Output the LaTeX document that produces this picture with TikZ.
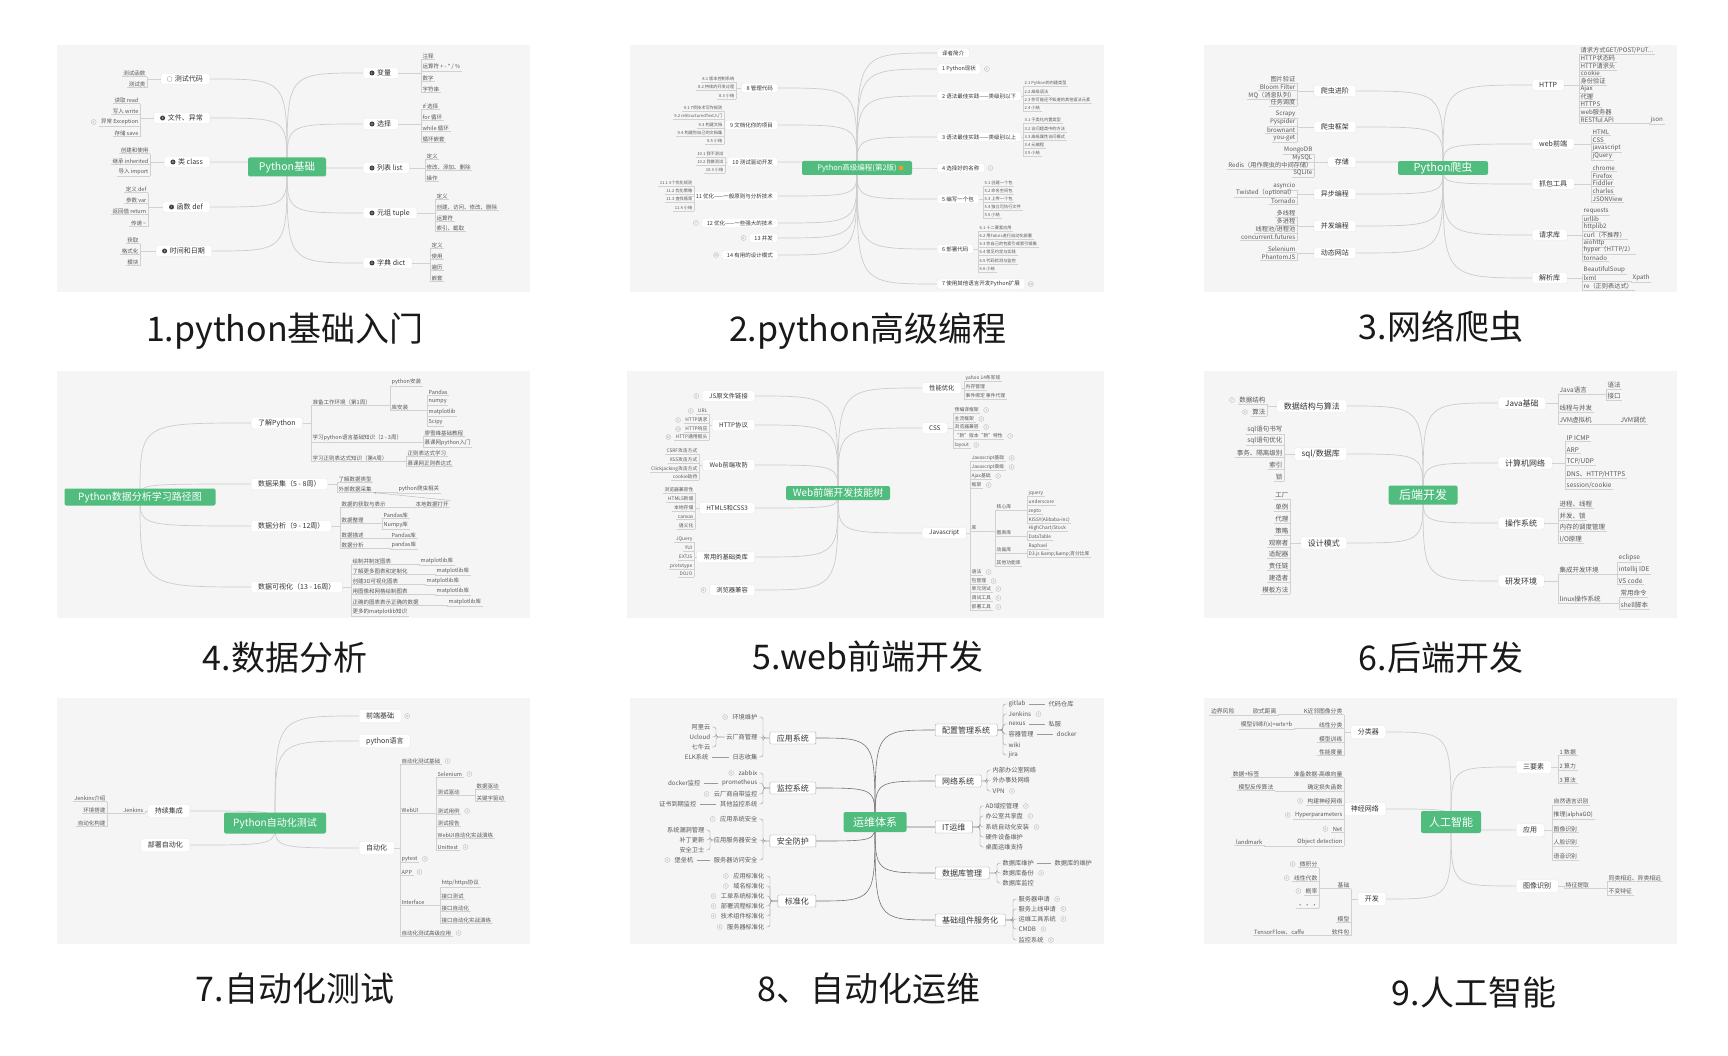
\documentclass[tikz,border=0pt]{standalone}
\usepackage{fontspec}
\setmainfont{Noto Sans CJK SC}
\usetikzlibrary{arrows.meta}

\definecolor{mapgreen}{RGB}{80, 188, 126}
\definecolor{mapbg}{RGB}{245, 245, 245}

\pgfdeclarelayer{panelbg}
\pgfdeclarelayer{edges}
\pgfsetlayers{panelbg,edges,main}

% leaves hanging off a bar, underlined (right / left of the parent)
\newcommand\kidsR[4]{%
  \foreach \uy/\tx [count=\k] in {#4} {%
    \node[leaf, anchor=west] (#3\k) at (#2,\uy) {\tx};
    \draw[twig] (#3\k.south west) -- (#3\k.south east);
    \draw[twig] (#1) -- (#1 -| #3\k.south west) -- (#3\k.south west);
  }}
\newcommand\kidsL[4]{%
  \foreach \uy/\tx [count=\k] in {#4} {%
    \node[leaf, anchor=east] (#3\k) at (#2,\uy) {\tx};
    \draw[twig] (#3\k.south west) -- (#3\k.south east);
    \draw[twig] (#1) -- (#1 -| #3\k.south east) -- (#3\k.south east);
  }}
% leaves on a brace (no underline)
\newcommand\braceR[4]{%
  \foreach \uy/\tx [count=\k] in {#4} {%
    \node[leaf, anchor=west] (#3\k) at (#2+4,\uy) {\tx};
    \draw[twig, rounded corners=2.5pt] (#1) -| ([xshift=-4pt]#3\k.west) -- (#3\k.west);
  }}
\newcommand\braceL[4]{%
  \foreach \uy/\tx [count=\k] in {#4} {%
    \node[leaf, anchor=east] (#3\k) at (#2-4,\uy) {\tx};
    \draw[twig, rounded corners=2.5pt] (#1) -| ([xshift=4pt]#3\k.east) -- (#3\k.east);
  }}
\newcommand\pairR[4]{%
  \foreach \uy/\tx [count=\k] in {#4} {%
    \node[leaf, anchor=west] (#3\k) at (#2,\uy) {\tx};
    \draw[twig] ([xshift=2pt]#1.east) -- ([xshift=-2pt]#3\k.west);
  }}
\newcommand\pairL[4]{%
  \foreach \uy/\tx [count=\k] in {#4} {%
    \node[leaf, anchor=east] (#3\k) at (#2,\uy) {\tx};
    \draw[twig] ([xshift=-2pt]#1.west) -- ([xshift=2pt]#3\k.east);
  }}
% little count badges beside a leaf
\newcommand\tallyR[1]{%
  \foreach \b/\n in {#1}
    \node[tally, anchor=west] (\b-n) at ([xshift=3pt]\b.east) {\n};}
\newcommand\tallyL[1]{%
  \foreach \b/\n in {#1}
    \node[tally, anchor=east] (\b-n) at ([xshift=-3pt]\b.west) {\n};}

\begin{document}
\begin{tikzpicture}[x=1pt, y=-1pt,
    panel/.style={fill=mapbg},
    hub/.style={fill=mapgreen, text=white, rounded corners=2pt, inner sep=1pt},
    branch/.style={fill=white, draw=black!9, rounded corners=1.5pt, text=black!80,
      inner xsep=7pt, inner ysep=2pt, minimum height=11pt},
    leaf/.style={text=black!65, inner xsep=1.5pt, inner ysep=0.8pt},
    twig/.style={draw=black!18, line width=0.4pt},
    curve/.style={draw=black!20, line width=0.7pt},
    icon/.style={circle, fill=black!75, text=white, inner sep=0pt, minimum size=5pt,
      font=\fontsize{3}{3}\selectfont},
    tally/.style={circle, draw=black!25, text=black!40, inner sep=0pt, minimum size=5pt,
      font=\fontsize{3}{3}\selectfont},
    caption/.style={font=\fontsize{34}{34}\selectfont, text=black!90},
    relate/.style={draw=black!30, line width=0.4pt, -{Stealth[length=3pt]}}]
  \useasboundingbox (0,0) rectangle (1728,1056);

  % ---------------- 1. python basics
  \begin{scope}[shift={(57,45)},
      leaf/.append style={font=\fontsize{5.5}{6}\selectfont},
      branch/.append style={font=\fontsize{7}{7}\selectfont}]
    \begin{pgfonlayer}{panelbg}
      \fill[panel] (0,0) rectangle (473,247);
    \end{pgfonlayer}
    \node[hub, minimum width=78pt, minimum height=19pt, font=\fontsize{10.5}{11}\selectfont] (p1h) at (230,122) {Python基础};
    \node[branch, anchor=west] (p1r1) at (306,28) {\hspace{7pt}变量};
    \node[branch, anchor=west] (p1r2) at (306,79) {\hspace{7pt}选择};
    \node[branch, anchor=west] (p1r3) at (306,123) {\hspace{7pt}列表 list};
    \node[branch, anchor=west] (p1r4) at (306,168) {\hspace{7pt}元组 tuple};
    \node[branch, anchor=west] (p1r5) at (306,218) {\hspace{7pt}字典 dict};
    \node[branch, anchor=east] (p1l1) at (153,34) {\hspace{7pt}测试代码};
    \node[branch, anchor=east] (p1l2) at (153,73) {\hspace{7pt}文件、异常};
    \node[branch, anchor=east] (p1l3) at (153,117) {\hspace{7pt}类 class};
    \node[branch, anchor=east] (p1l4) at (153,162) {\hspace{7pt}函数 def};
    \node[branch, anchor=east] (p1l5) at (155,206) {\hspace{7pt}时间和日期};
    \foreach \b/\n in {p1r1/1,p1r2/2,p1r3/3,p1r4/4,p1r5/5,p1l2/9,p1l3/8,p1l4/7,p1l5/6}
      \node[icon] (\b-i) at ([xshift=9pt]\b.west) {\n};
    \node[icon, fill=white, draw=black!35] (p1l1-i) at ([xshift=9pt]p1l1.west) {};
    \begin{pgfonlayer}{edges}
      \foreach \b in {p1r1,p1r2,p1r3,p1r4,p1r5}
        \draw[curve] (p1h.center) .. controls (p1h.center |- \b.west) .. (\b.west);
      \foreach \b in {p1l1,p1l2,p1l3,p1l4,p1l5}
        \draw[curve] (p1h.center) .. controls (p1h.center |- \b.east) .. (\b.east);
    \end{pgfonlayer}
    \kidsR{p1r1.east}{364}{p1a}{11/注释, 22/{运算符 + - * / \%}, 33/数字, 44/字符串}
    \kidsR{p1r2.east}{364}{p1b}{61/if 选择, 72/for 循环, 83/while 循环, 94/循环嵌套}
    \kidsR{p1r3.east}{368}{p1c}{111/定义, 122/修改、添加、删除, 133/操作}
    \kidsR{p1r4.east}{378}{p1d}{151/定义, 162/创建、访问、修改、删除, 173/运算符, 183/索引、截取}
    \kidsR{p1r5.east}{373}{p1e}{200/定义, 211/使用, 222/遍历, 233/嵌套}
    \kidsL{p1l1.west}{90}{p1f}{28/测试函数, 39/测试类}
    \kidsL{p1l2.west}{83}{p1g}{55/读取 read, 66/写入 write, 77/异常 Exception, 88/存储 save}
    \kidsL{p1l3.west}{93}{p1i}{105/创建和使用, 116/继承 inherited, 127/导入 import}
    \kidsL{p1l4.west}{91}{p1j}{144/定义 def, 155/参数 var, 166/返回值 return, 178/传递 \textasciitilde}
    \kidsL{p1l5.west}{83}{p1k}{195/获取, 206/格式化, 217/模块}
    \tallyL{p1g3/2}
  \end{scope}

  % ---------------- 2. advanced python
  \begin{scope}[shift={(630,45)},
      leaf/.append style={font=\fontsize{4.2}{4.5}\selectfont},
      branch/.append style={font=\fontsize{5.5}{6}\selectfont, minimum height=9.5pt, inner xsep=5pt}]
    \begin{pgfonlayer}{panelbg}
      \fill[panel] (0,0) rectangle (474,247);
    \end{pgfonlayer}
    \node[hub, minimum width=110pt, minimum height=14pt, font=\fontsize{7.5}{8}\selectfont] (p2h) at (227,123) {Python高级编程(第2版)\hspace{12pt}};
    \fill[orange!85] ([xshift=-13pt,yshift=2pt]p2h.east) rectangle +(4,4);
    \node[branch, anchor=west] (p2r1) at (307,8) {译者简介};
    \node[branch, anchor=west] (p2r2) at (307,24) {1 Python现状};
    \node[branch, anchor=west] (p2r3) at (307,51) {2 语法最佳实践——类级别以下};
    \node[branch, anchor=west] (p2r4) at (307,92) {3 语法最佳实践——类级别以上};
    \node[branch, anchor=west] (p2r5) at (307,123) {4 选择好的名称};
    \node[branch, anchor=west] (p2r6) at (307,154) {5 编写一个包};
    \node[branch, anchor=west] (p2r7) at (307,204) {6 部署代码};
    \node[branch, anchor=west] (p2r8) at (307,239) {7 使用其他语言开发Python扩展};
    \node[branch, anchor=east] (p2l1) at (148,43) {8 管理代码};
    \node[branch, anchor=east] (p2l2) at (148,80) {9 文档化你的项目};
    \node[branch, anchor=east] (p2l3) at (148,117) {10 测试驱动开发};
    \node[branch, anchor=east] (p2l4) at (148,151) {11 优化——一般原则与分析技术};
    \node[branch, anchor=east] (p2l5) at (148,178) {12 优化——一些强大的技术};
    \node[branch, anchor=east] (p2l6) at (148,193) {13 并发};
    \node[branch, anchor=east] (p2l7) at (148,210) {14 有用的设计模式};
    \begin{pgfonlayer}{edges}
      \foreach \b in {p2r1,p2r2,p2r3,p2r4,p2r5,p2r6,p2r7,p2r8}
        \draw[curve] (p2h.center) .. controls (p2h.center |- \b.west) .. (\b.west);
      \foreach \b in {p2l1,p2l2,p2l3,p2l4,p2l5,p2l6,p2l7}
        \draw[curve] (p2h.center) .. controls (p2h.center |- \b.east) .. (\b.east);
    \end{pgfonlayer}
    \kidsR{p2r3.east}{393}{p2a}{38/2.1 Python的内建类型, 47/2.2 高级语法, 55/2.3 你可能还不知道的其他语法元素, 63/2.4 小结}
    \kidsR{p2r4.east}{393}{p2b}{75/3.1 子类化内置类型, 84/3.2 访问超类中的方法, 92/3.3 高级属性访问模式, 100/3.4 元编程, 108/3.5 小结}
    \kidsR{p2r6.east}{353}{p2c}{138/5.1 创建一个包, 146/5.2 命名空间包, 154/5.3 上传一个包, 162/5.4 独立可执行文件, 170/5.5 小结}
    \kidsR{p2r7.east}{348}{p2d}{183/6.1 十二要素应用, 191/6.2 用Fabric进行自动化部署, 199/6.3 你自己的包索引或索引镜像, 207/6.4 常见约定与实践, 216/6.5 代码检测与监控, 224/6.6 小结}
    \kidsL{p2l1.west}{106}{p2e}{34/8.1 版本控制系统, 42/8.2 持续的开发过程, 51/8.3 小结}
    \kidsL{p2l2.west}{94}{p2f}{63/9.1 7项技术写作规则, 71/9.2 reStructuredText入门, 80/9.3 构建文档, 88/9.4 构建你自己的文档集, 96/9.5 小结}
    \kidsL{p2l3.west}{95}{p2g}{109/10.1 我不测试, 117/10.2 我做测试, 125/10.3 小结}
    \kidsL{p2l4.west}{64}{p2i}{138/11.1 3个优化规则, 146/11.2 优化策略, 154/11.3 查找瓶颈, 163/11.4 小结}
    \tallyR{p2r2/1, p2r5/1, p2r8/10}
    \tallyL{p2l5/7, p2l6/5, p2l7/10}
  \end{scope}

  % ---------------- 3. web crawler
  \begin{scope}[shift={(1204,45)},
      leaf/.append style={font=\fontsize{6.2}{6.5}\selectfont},
      branch/.append style={font=\fontsize{7}{7}\selectfont}]
    \begin{pgfonlayer}{panelbg}
      \fill[panel] (0,0) rectangle (473,247);
    \end{pgfonlayer}
    \node[hub, minimum width=90pt, minimum height=13pt, font=\fontsize{11}{11}\selectfont] (p3h) at (239,123) {Python爬虫};
    \node[branch, anchor=west] (p3r1) at (328,40) {HTTP};
    \node[branch, anchor=west] (p3r2) at (328,99) {web前端};
    \node[branch, anchor=west] (p3r3) at (328,139) {抓包工具};
    \node[branch, anchor=west] (p3r4) at (328,190) {请求库};
    \node[branch, anchor=west] (p3r5) at (328,233) {解析库};
    \node[branch, anchor=east] (p3l1) at (152,46) {爬虫进阶};
    \node[branch, anchor=east] (p3l2) at (152,82) {爬虫框架};
    \node[branch, anchor=east] (p3l3) at (152,117) {存储};
    \node[branch, anchor=east] (p3l4) at (152,149) {异步编程};
    \node[branch, anchor=east] (p3l5) at (152,181) {并发编程};
    \node[branch, anchor=east] (p3l6) at (152,208) {动态网站};
    \begin{pgfonlayer}{edges}
      \foreach \b in {p3r1,p3r2,p3r3,p3r4,p3r5}
        \draw[curve] (p3h.center) .. controls (p3h.center |- \b.west) .. (\b.west);
      \foreach \b in {p3l1,p3l2,p3l3,p3l4,p3l5,p3l6}
        \draw[curve] (p3h.center) .. controls (p3h.center |- \b.east) .. (\b.east);
    \end{pgfonlayer}
    \kidsR{p3r1.east}{375}{p3a}{5/{请求方式GET/POST/PUT...}, 13/HTTP状态码, 21/HTTP请求头, 28/cookie, 36/身份验证, 44/Ajax, 52/代理, 59/HTTPS, 67/web服务器, 75/RESTful API}
    \kidsR{p3a10.south east}{445}{p3b}{75/json}
    \kidsR{p3r2.east}{387}{p3c}{87/HTML, 95/CSS, 103/javascript, 111/jQuery}
    \kidsR{p3r3.east}{387}{p3d}{123/chrome, 131/Firefox, 138/Fiddler, 146/charles, 154/JSONView}
    \kidsR{p3r4.east}{378}{p3e}{166/requests, 174/urllib, 182/httplib2, 190/curl（不推荐）, 198/aiohttp, 205/{hyper（HTTP/2）}, 213/tornado}
    \kidsR{p3r5.east}{378}{p3f}{225/BeautifulSoup, 233/lxml, 241/re（正则表达式）}
    \kidsR{p3f2.south east}{427}{p3g}{233/Xpath}
    \kidsL{p3l1.west}{93}{p3i}{34/图片验证, 42/Bloom Filter, 50/MQ（消息队列）, 57/任务调度}
    \kidsL{p3l2.west}{93}{p3j}{69/Scrapy, 77/Pyspider, 85/brownant, 93/you-get}
    \kidsL{p3l3.west}{110}{p3k}{105/MongoDB, 113/MySQL, 120/Redis（用作爬虫的中间存储）, 128/SQLite}
    \kidsL{p3l4.west}{93}{p3m}{141/asyncio, 148/Twisted（optional）, 156/Tornado}
    \kidsL{p3l5.west}{93}{p3n}{168/多线程, 176/多进程, 184/{线程池/进程池}, 192/concurrent.futures}
    \kidsL{p3l6.west}{93}{p3o}{204/Selenium, 212/PhantomJS}
  \end{scope}

  % ---------------- 4. data analysis
  \begin{scope}[shift={(57,371)},
      leaf/.append style={font=\fontsize{5.5}{6}\selectfont},
      branch/.append style={font=\fontsize{7}{7}\selectfont}]
    \begin{pgfonlayer}{panelbg}
      \fill[panel] (0,0) rectangle (473,247);
    \end{pgfonlayer}
    \node[hub, minimum width=151pt, minimum height=17pt, font=\fontsize{10}{10}\selectfont] (p4h) at (83,126) {Python数据分析学习路径图};
    \node[branch, anchor=west] (p4r1) at (194,52) {了解Python};
    \node[branch, anchor=west] (p4r2) at (194,113) {数据采集（5 - 8周）};
    \node[branch, anchor=west] (p4r3) at (194,155) {数据分析（9 - 12周）};
    \node[branch, anchor=west] (p4r4) at (194,216) {数据可视化（13 - 16周）};
    \begin{pgfonlayer}{edges}
      \foreach \b in {p4r1,p4r2,p4r3,p4r4}
        \draw[curve] (p4h.center) .. controls (p4h.center |- \b.west) .. (\b.west);
    \end{pgfonlayer}
    \kidsR{p4r1.east}{254}{p4a}{31/准备工作环境（第1周）, 67/学习python语言基础知识（2 - 3周）, 87/学习正则表达式知识（第4周）}
    \kidsR{p4a1.south east}{333}{p4b}{11/python安装, 36/库安装}
    \kidsR{p4b2.south east}{370}{p4c}{21/Pandas, 31/numpy, 41/matplotlib, 51/Scipy}
    \kidsR{p4a2.south east}{366}{p4d}{62/廖雪峰基础教程, 72/慕课网python入门}
    \kidsR{p4a3.south east}{349}{p4e}{82/正则表达式学习, 92/慕课网正则表达式}
    \kidsR{p4r2.east}{280}{p4f}{108/了解数据类型, 118/外部数据采集}
    \kidsR{p4f2.south east}{340}{p4g}{118/python爬虫相关}
    \kidsR{p4r3.east}{283}{p4i}{133/数据的获取与表示, 149/数据整理, 164/数据描述, 174/数据分析}
    \kidsR{p4i1.south east}{357}{p4j}{133/本地数据打开}
    \kidsR{p4i2.south east}{325}{p4k}{144/Pandas库, 154/Numpy库}
    \kidsR{p4i3.south east}{333}{p4l}{164/Pandas库}
    \kidsR{p4i4.south east}{333}{p4m}{174/pandas库}
    \draw[relate] (p4j1.north east) -- (p4f2.south east);
    \kidsR{p4r4.east}{294}{p4n}{190/绘制并制定图表, 200/了解更多图表和定制化, 210/创建3D可视化图表, 220/用图像和网格绘制图表, 231/正确的图表表示正确的数据, 241/更多的matplotlib知识}
    \kidsR{p4n1.south east}{362}{p4o}{190/matplotlib库}
    \kidsR{p4n2.south east}{378}{p4p}{200/matplotlib库}
    \kidsR{p4n3.south east}{368}{p4q}{210/matplotlib库}
    \kidsR{p4n4.south east}{378}{p4s}{220/matplotlib库}
    \kidsR{p4n5.south east}{390}{p4t}{231/matplotlib库}
  \end{scope}

  % ---------------- 5. web front end
  \begin{scope}[shift={(627,371)},
      leaf/.append style={font=\fontsize{4.8}{5}\selectfont},
      branch/.append style={font=\fontsize{6.3}{6.5}\selectfont}]
    \begin{pgfonlayer}{panelbg}
      \fill[panel] (0,0) rectangle (477,247);
    \end{pgfonlayer}
    \node[hub, minimum width=104pt, minimum height=14pt, font=\fontsize{10}{10}\selectfont] (p5h) at (211,122) {Web前端开发技能树};
    \node[branch, anchor=west] (p5r1) at (295,17) {性能优化};
    \node[branch, anchor=west] (p5r2) at (295,57) {CSS};
    \node[branch, anchor=west] (p5r3) at (295,162) {Javascript};
    \node[branch, anchor=east] (p5l1) at (128,25) {JS原文件链接};
    \node[branch, anchor=east] (p5l2) at (128,54) {HTTP协议};
    \node[branch, anchor=east] (p5l3) at (128,94) {Web前端攻防};
    \node[branch, anchor=east] (p5l4) at (128,137) {HTML5和CSS3};
    \node[branch, anchor=east] (p5l5) at (128,186) {常用的基础类库};
    \node[branch, anchor=east] (p5l6) at (128,219) {浏览器兼容};
    \begin{pgfonlayer}{edges}
      \foreach \b in {p5r1,p5r2,p5r3}
        \draw[curve] (p5h.center) .. controls (p5h.center |- \b.west) .. (\b.west);
      \foreach \b in {p5l1,p5l2,p5l3,p5l4,p5l5,p5l6}
        \draw[curve] (p5h.center) .. controls (p5h.center |- \b.east) .. (\b.east);
    \end{pgfonlayer}
    \kidsR{p5r1.east}{337}{p5a}{7/yahoo 14条军规, 16/内存管理, 25/事件绑定 事件代理}
    \kidsR{p5r2.east}{326}{p5b}{39/预编译框架, 48/主流框架, 56/浏览器兼容, 65/“新”版本“新”特性, 74/layout}
    \kidsR{p5r3.east}{343}{p5c}{87/Javascript基础, 96/Javascript高级, 105/Ajax基础, 114/框架, 157/库, 201/语法, 210/包管理, 218/单元测试, 227/调试工具, 236/部署工具}
    \kidsR{p5c5.south east}{368}{p5d}{136/核心库, 162/图表库, 179/动画库, 192/其他功能库}
    \kidsR{p5d1.south east}{400}{p5e}{122/jquery, 131/underscore, 140/zepto, 149/KISSY(Alibaba-inc)}
    \kidsR{p5d2.south east}{400}{p5f}{157/{HighChart/Stock}, 166/DataTable}
    \kidsR{p5d3.south east}{400}{p5g}{175/Raphael, 183/D3.js \&amp;\&amp;百分比库}
    \kidsL{p5l2.west}{82}{p5i}{40/URL, 49/HTTP请求, 58/HTTP响应, 66/HTTP通用报头}
    \kidsL{p5l3.west}{72}{p5j}{80/CSRF攻击方式, 89/XSS攻击方式, 98/Clickjacking攻击方式, 106/cookie劫持}
    \kidsL{p5l4.west}{68}{p5k}{119/浏览器兼容性, 128/HTML5新增, 137/本地存储, 146/canvas, 155/语义化}
    \kidsL{p5l5.west}{67}{p5m}{168/JQuery, 177/YUI, 186/EXTJS, 195/prototype, 203/DOJO}
    \tallyR{p5b1/3, p5b2/3, p5b3/5, p5b4/7, p5b5/4, p5c1/5, p5c2/6, p5c3/4, p5c4/4, p5c6/2, p5c7/3, p5c8/4, p5c9/5, p5c10/3}
    \tallyL{p5l1/5, p5l6/8, p5i1/3, p5i2/4, p5i3/13, p5i4/10}
  \end{scope}

  % ---------------- 6. back end
  \begin{scope}[shift={(1204,371)},
      leaf/.append style={font=\fontsize{6.5}{7}\selectfont},
      branch/.append style={font=\fontsize{8}{8}\selectfont, minimum height=12pt}]
    \begin{pgfonlayer}{panelbg}
      \fill[panel] (0,0) rectangle (473,247);
    \end{pgfonlayer}
    \node[hub, minimum width=69pt, minimum height=19pt, font=\fontsize{12}{12}\selectfont] (p6h) at (219,124) {后端开发};
    \node[branch, anchor=west] (p6r1) at (294,32) {Java基础};
    \node[branch, anchor=west] (p6r2) at (294,92) {计算机网络};
    \node[branch, anchor=west] (p6r3) at (294,152) {操作系统};
    \node[branch, anchor=west] (p6r4) at (294,210) {研发环境};
    \node[branch, anchor=east] (p6l1) at (143,35) {数据结构与算法};
    \node[branch, anchor=east] (p6l2) at (143,83) {sql/数据库};
    \node[branch, anchor=east] (p6l3) at (143,172) {设计模式};
    \begin{pgfonlayer}{edges}
      \foreach \b in {p6r1,p6r2,p6r3,p6r4}
        \draw[curve] (p6h.center) .. controls (p6h.center |- \b.west) .. (\b.west);
      \foreach \b in {p6l1,p6l2,p6l3}
        \draw[curve] (p6h.center) .. controls (p6h.center |- \b.east) .. (\b.east);
    \end{pgfonlayer}
    \kidsR{p6r1.east}{354}{p6a}{19/Java语言, 37/线程与并发, 49/JVM虚拟机}
    \kidsR{p6a1.south east}{402}{p6b}{14/语法, 25/接口}
    \kidsR{p6a3.south east}{415}{p6c}{49/JVM调优}
    \kidsR{p6r2.east}{361}{p6d}{67/IP ICMP, 79/ARP, 90/{TCP/UDP}, 103/{DNS、HTTP/HTTPS}, 114/{session/cookie}}
    \kidsR{p6r3.east}{354}{p6e}{133/进程、线程, 145/并发、锁, 156/内存的调度管理, 168/{I/O原理}}
    \kidsR{p6r4.east}{354}{p6f}{199/集成开发环境, 228/linux操作系统}
    \kidsR{p6f1.south east}{413}{p6g}{187/eclipse, 199/intellij IDE, 210/VS code}
    \kidsR{p6f2.south east}{415}{p6i}{222/常用命令, 234/shell脚本}
    \kidsL{p6l1.west}{63}{p6j}{29/数据结构, 41/算法}
    \kidsL{p6l2.west}{80}{p6k}{59/sql语句书写, 70/sql语句优化, 82/事务、隔离级别, 94/索引, 106/锁}
    \kidsL{p6l3.west}{86}{p6m}{124/工厂, 136/单例, 148/代理, 160/策略, 172/观察者, 183/适配器, 195/责任链, 207/建造者, 219/模板方法}
    \tallyL{p6j1/7, p6j2/6}
  \end{scope}

  % ---------------- 7. test automation
  \begin{scope}[shift={(57,698)},
      leaf/.append style={font=\fontsize{5.5}{6}\selectfont},
      branch/.append style={font=\fontsize{7}{7}\selectfont, minimum height=13pt}]
    \begin{pgfonlayer}{panelbg}
      \fill[panel] (0,0) rectangle (473,246);
    \end{pgfonlayer}
    \node[hub, minimum width=102pt, minimum height=21pt, font=\fontsize{10}{10}\selectfont] (p7h) at (218,125) {Python自动化测试};
    \node[branch, anchor=west] (p7r1) at (302,18) {前端基础};
    \node[branch, anchor=west] (p7r2) at (302,43) {python语言};
    \node[branch, anchor=west] (p7r3) at (302,150) {自动化};
    \node[branch, anchor=east] (p7l1) at (133,113) {持续集成};
    \node[branch, anchor=east] (p7l2) at (133,147) {部署自动化};
    \begin{pgfonlayer}{edges}
      \foreach \b in {p7r1,p7r2,p7r3}
        \draw[curve] (p7h.center) .. controls (p7h.center |- \b.west) .. (\b.west);
      \foreach \b in {p7l1,p7l2}
        \draw[curve] (p7h.center) .. controls (p7h.center |- \b.east) .. (\b.east);
    \end{pgfonlayer}
    \kidsR{p7r3.east}{343}{p7a}{63/自动化测试基础, 112/WebUI, 161/pytest, 174/APP, 204/Interface, 235/自动化测试高级应用}
    \kidsR{p7a2.south east}{379}{p7b}{76/Selenium, 94/测试驱动, 113/测试用例, 125/测试报告, 137/WebUI自动化实战演练, 149/Unittest}
    \kidsR{p7b2.south east}{418}{p7c}{88/数据驱动, 100/关键字驱动}
    \kidsR{p7a5.south east}{383}{p7d}{185/{http/https协议}, 198/接口测试, 210/接口自动化, 222/接口自动化实战演练}
    \kidsL{p7l1.west}{88}{p7e}{112/Jenkins}
    \kidsL{p7e1.south west}{50}{p7f}{100/Jenkins介绍, 112/环境搭建, 125/自动化构建}
    \tallyR{p7r1/8, p7a1/3, p7a3/4, p7a4/6, p7a6/3, p7b1/3, p7b3/2, p7b6/2}
  \end{scope}

  % ---------------- 8. ops automation
  \begin{scope}[shift={(630,698)},
      leaf/.append style={font=\fontsize{6.2}{6.5}\selectfont},
      branch/.append style={font=\fontsize{8}{8}\selectfont, draw=black!35, rounded corners=1pt, minimum height=12pt},
      curve/.append style={draw=black!55, line width=0.6pt},
      twig/.append style={draw=black!40}]
    \begin{pgfonlayer}{panelbg}
      \fill[panel] (0,0) rectangle (474,246);
    \end{pgfonlayer}
    \node[hub, minimum width=63pt, minimum height=20pt, font=\fontsize{11}{11}\selectfont] (p8h) at (245,124) {运维体系};
    \node[branch, anchor=west] (p8r1) at (305,32) {配置管理系统};
    \node[branch, anchor=west] (p8r2) at (305,83) {网络系统};
    \node[branch, anchor=west] (p8r3) at (305,129) {IT运维};
    \node[branch, anchor=west] (p8r4) at (305,175) {数据库管理};
    \node[branch, anchor=west] (p8r5) at (305,222) {基础组件服务化};
    \node[branch, anchor=east] (p8l1) at (186,40) {应用系统};
    \node[branch, anchor=east] (p8l2) at (186,90) {监控系统};
    \node[branch, anchor=east] (p8l3) at (186,143) {安全防护};
    \node[branch, anchor=east] (p8l4) at (186,203) {标准化};
    \begin{pgfonlayer}{edges}
      \foreach \b in {p8r1,p8r2,p8r3,p8r4,p8r5}
        \draw[curve] (p8h.center) .. controls (p8h.center |- \b.west) .. (\b.west);
      \foreach \b in {p8l1,p8l2,p8l3,p8l4}
        \draw[curve] (p8h.center) .. controls (p8h.center |- \b.east) .. (\b.east);
    \end{pgfonlayer}
    \braceR{p8r1.east}{373}{p8a}{6/gitlab, 16/Jenkins, 26/nexus, 36/容器管理, 47/wiki, 57/jira}
    \pairR{p8a1}{417}{p8b}{6/代码仓库}
    \pairR{p8a3}{417}{p8c}{26/私服}
    \pairR{p8a4}{425}{p8d}{36/docker}
    \braceR{p8r2.east}{357}{p8e}{72/内部办公室网络, 82/外办事处网络, 93/VPN}
    \braceR{p8r3.east}{350}{p8f}{108/AD域控管理, 118/办公室共享盘, 129/系统自动化安装, 139/硬件设备维护, 149/桌面运维支持}
    \braceR{p8r4.east}{367}{p8g}{165/数据库维护, 175/数据库备份, 185/数据库监控}
    \pairR{p8g1}{423}{p8i}{165/数据库的维护}
    \braceR{p8r5.east}{383}{p8j}{201/服务器申请, 211/服务上线申请, 221/运维工具系统, 231/CMDB, 242/监控系统}
    \braceL{p8l1.west}{133}{p8k}{19/环境维护, 39/云厂商管理, 59/日志收集}
    \braceL{p8k2.west}{86}{p8m}{29/阿里云, 39/Ucloud, 49/七牛云}
    \pairL{p8k3}{80}{p8n}{59/ELK系统}
    \braceL{p8l2.west}{133}{p8o}{75/zabbix, 85/prometheus, 96/云厂商自带监控, 106/其他监控系统}
    \pairL{p8o2}{72}{p8p}{85/docker监控}
    \pairL{p8o4}{68}{p8q}{106/证书到期监控}
    \braceL{p8l3.west}{133}{p8s}{121/应用系统安全, 142/应用服务器安全, 162/服务器访问安全}
    \braceL{p8s2.west}{80}{p8t}{132/系统漏洞管理, 142/补丁更新, 152/安全卫士}
    \pairL{p8s3}{65}{p8u}{162/堡垒机}
    \braceL{p8l4.west}{140}{p8v}{178/应用标准化, 188/域名标准化, 198/工单系统标准化, 208/部署流程标准化, 218/技术组件标准化, 229/服务器标准化}
    \tallyR{p8a2/3, p8e3/2, p8f1/2, p8f2/2, p8f3/4, p8g2/2, p8j1/4, p8j2/5, p8j3/5, p8j4/2, p8j5/5}
    \tallyL{p8k1/6, p8o1/6, p8o3/2, p8s1/7, p8u1/4, p8v1/5, p8v2/5, p8v3/5, p8v4/5, p8v5/4, p8v6/6}
  \end{scope}

  % ---------------- 9. artificial intelligence
  \begin{scope}[shift={(1204,698)},
      leaf/.append style={font=\fontsize{5.8}{6}\selectfont},
      branch/.append style={font=\fontsize{7}{7}\selectfont, minimum height=13pt}]
    \begin{pgfonlayer}{panelbg}
      \fill[panel] (0,0) rectangle (473,246);
    \end{pgfonlayer}
    \node[hub, minimum width=60pt, minimum height=22pt, font=\fontsize{11}{11}\selectfont] (p9h) at (247,124) {人工智能};
    \node[branch, anchor=west] (p9r1) at (312,69) {三要素};
    \node[branch, anchor=west] (p9r2) at (312,132) {应用};
    \node[branch, anchor=west] (p9r3) at (312,188) {图像识别};
    \node[branch, anchor=east] (p9l1) at (182,34) {分类器};
    \node[branch, anchor=east] (p9l2) at (182,111) {神经网络};
    \node[branch, anchor=east] (p9l3) at (182,201) {开发};
    \begin{pgfonlayer}{edges}
      \foreach \b in {p9r1,p9r2,p9r3}
        \draw[curve] (p9h.center) .. controls (p9h.center |- \b.west) .. (\b.west);
      \foreach \b in {p9l1,p9l2,p9l3}
        \draw[curve] (p9h.center) .. controls (p9h.center |- \b.east) .. (\b.east);
    \end{pgfonlayer}
    \kidsR{p9r1.east}{354}{p9a}{54/1 数据, 68/2 算力, 82/3 算法}
    \kidsR{p9r2.east}{348}{p9b}{103/自然语言识别, 117/推理(alphaGO), 131/图像识别, 144/人脸识别, 158/语音识别}
    \kidsR{p9r3.east}{360}{p9c}{187/特征提取}
    \kidsR{p9c1.south east}{403}{p9d}{180/同类相近、异类相远, 193/不变特征}
    \kidsL{p9l1.west}{140}{p9e}{13/K近邻图像分类, 27/线性分类, 41/模型训练, 54/性能度量}
    \kidsL{p9e1.south west}{74}{p9f}{13/欧式距离}
    \kidsL{p9f1.south west}{32}{p9g}{13/边界风险}
    \kidsL{p9e2.south west}{90}{p9i}{27/模型训练f(x)=wtx+b}
    \kidsL{p9l2.west}{140}{p9j}{76/准备数据-高维向量, 89/确定损失函数, 103/构建神经网络, 117/Hyperparameters, 131/Net, 144/Object detection}
    \kidsL{p9j1.south west}{57}{p9k}{76/数据+标签}
    \kidsL{p9j2.south west}{71}{p9m}{89/模型反传算法}
    \kidsL{p9j6.south west}{60}{p9n}{144/landmark}
    \kidsL{p9l3.west}{147}{p9o}{187/基础, 221/模型, 234/软件包}
    \kidsL{p9o1.south west}{115}{p9p}{166/微积分, 180/线性代数, 193/概率, 208/· · ·}
    \kidsL{p9o3.south west}{102}{p9q}{234/TensorFlow、caffe}
    \tallyL{p9j3/5, p9j4/9, p9j5/6, p9p1/4, p9p2/3, p9p3/2}
  \end{scope}

  % captions
  \node[caption] (t1) at (285,331) {1.python基础入门};
  \node[caption] (t2) at (868,331) {2.python高级编程};
  \node[caption] (t3) at (1441,326) {3.网络爬虫};
  \node[caption] (t4) at (285,658) {4.数据分析};
  \node[caption] (t5) at (868,657) {5.web前端开发};
  \node[caption] (t6) at (1441,658) {6.后端开发};
  \node[caption] (t7) at (295,989) {7.自动化测试};
  \node[caption] (t8) at (869,989) {8、自动化运维};
  \node[caption] (t9) at (1474,993) {9.人工智能};
\end{tikzpicture}
\end{document}
